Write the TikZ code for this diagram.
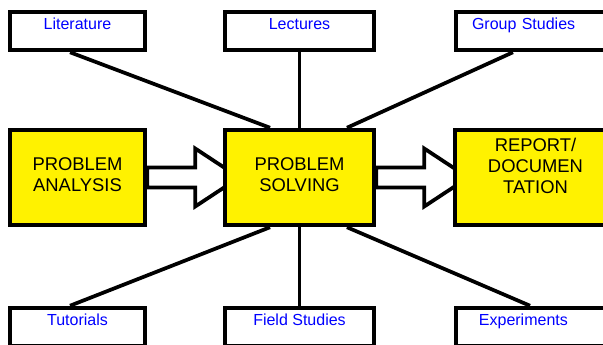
\documentclass[tikz,border=0pt]{standalone}
\usepackage{fontspec}
\setmainfont{Liberation Sans}
\usetikzlibrary{backgrounds}
\begin{document}
\begin{tikzpicture}[x=0.75pt,y=-0.75pt,
    src/.style={draw,line width=3pt,fill=white,text=blue,
      font=\fontsize{12}{14}\selectfont,inner sep=0pt,
      minimum height=28.9pt,text height=8.6pt,text depth=10.9pt},
    srcr/.style={src,anchor=west,align=left,text width=90pt},
    task/.style={draw,line width=3pt,fill=yellow,align=center,
      font=\fontsize{13.8}{15.75}\selectfont,
      minimum height=71.6pt,text depth=4.5pt},
    link/.style={line width=2.8pt},
    hollow/.style={draw,line width=2.8pt,fill=white,line join=miter}]
  \useasboundingbox (0,0) rectangle (603,345);
  % sources
  \node[src,minimum width=101.6pt] (lit) at (77.5,31) {Literature};
  \node[src,minimum width=112.3pt] (lect) at (299.5,31) {Lectures};
  \node[srcr,inner xsep=12.2pt] (grp) at (453.75,31) {Group Studies};
  \node[src,minimum width=101.6pt] (tut) at (77.5,327) {Tutorials};
  \node[src,minimum width=112.3pt] (fld) at (299.5,327) {Field Studies};
  \node[srcr,inner xsep=17.4pt] (expt) at (453.75,327) {Experiments};
  % tasks
  \node[task,minimum width=101.6pt] (ana) at (77.5,177.5) {PROBLEM\\ANALYSIS};
  \node[task,minimum width=112.1pt] (solve) at (299.5,177.5) {PROBLEM\\SOLVING};
  \node[task,minimum width=121.1pt,text depth=17.1pt] (rep) at (535.5,177.5)
    {REPORT/\\DOCUMEN\\TATION};
  \begin{pgfonlayer}{background}
    \draw[link] ([xshift=-5.6pt]lit.south) -- ([xshift=-22.1pt]solve.north);
    \draw[link] (lect.south) -- (solve.north);
    \draw[link] ([xshift=44.4pt]grp.south west) -- ([xshift=35.6pt]solve.north);
    \draw[link] ([xshift=-5.6pt]tut.north) -- ([xshift=-22.1pt]solve.south);
    \draw[link] (fld.north) -- (solve.south);
    \draw[link] ([xshift=57.2pt]expt.north west) -- ([xshift=35.6pt]solve.south);
    % block arrows, tips hidden under the next box
    \foreach \a in {ana,solve}
      \draw[hollow] (\a.east) ++(0,-10) -- ++(48,0) -- ++(0,-19) -- ++(44,29)
        -- ++(-44,29) -- ++(0,-19) -- ++(-48,0) -- cycle;
  \end{pgfonlayer}
\end{tikzpicture}
\end{document}
